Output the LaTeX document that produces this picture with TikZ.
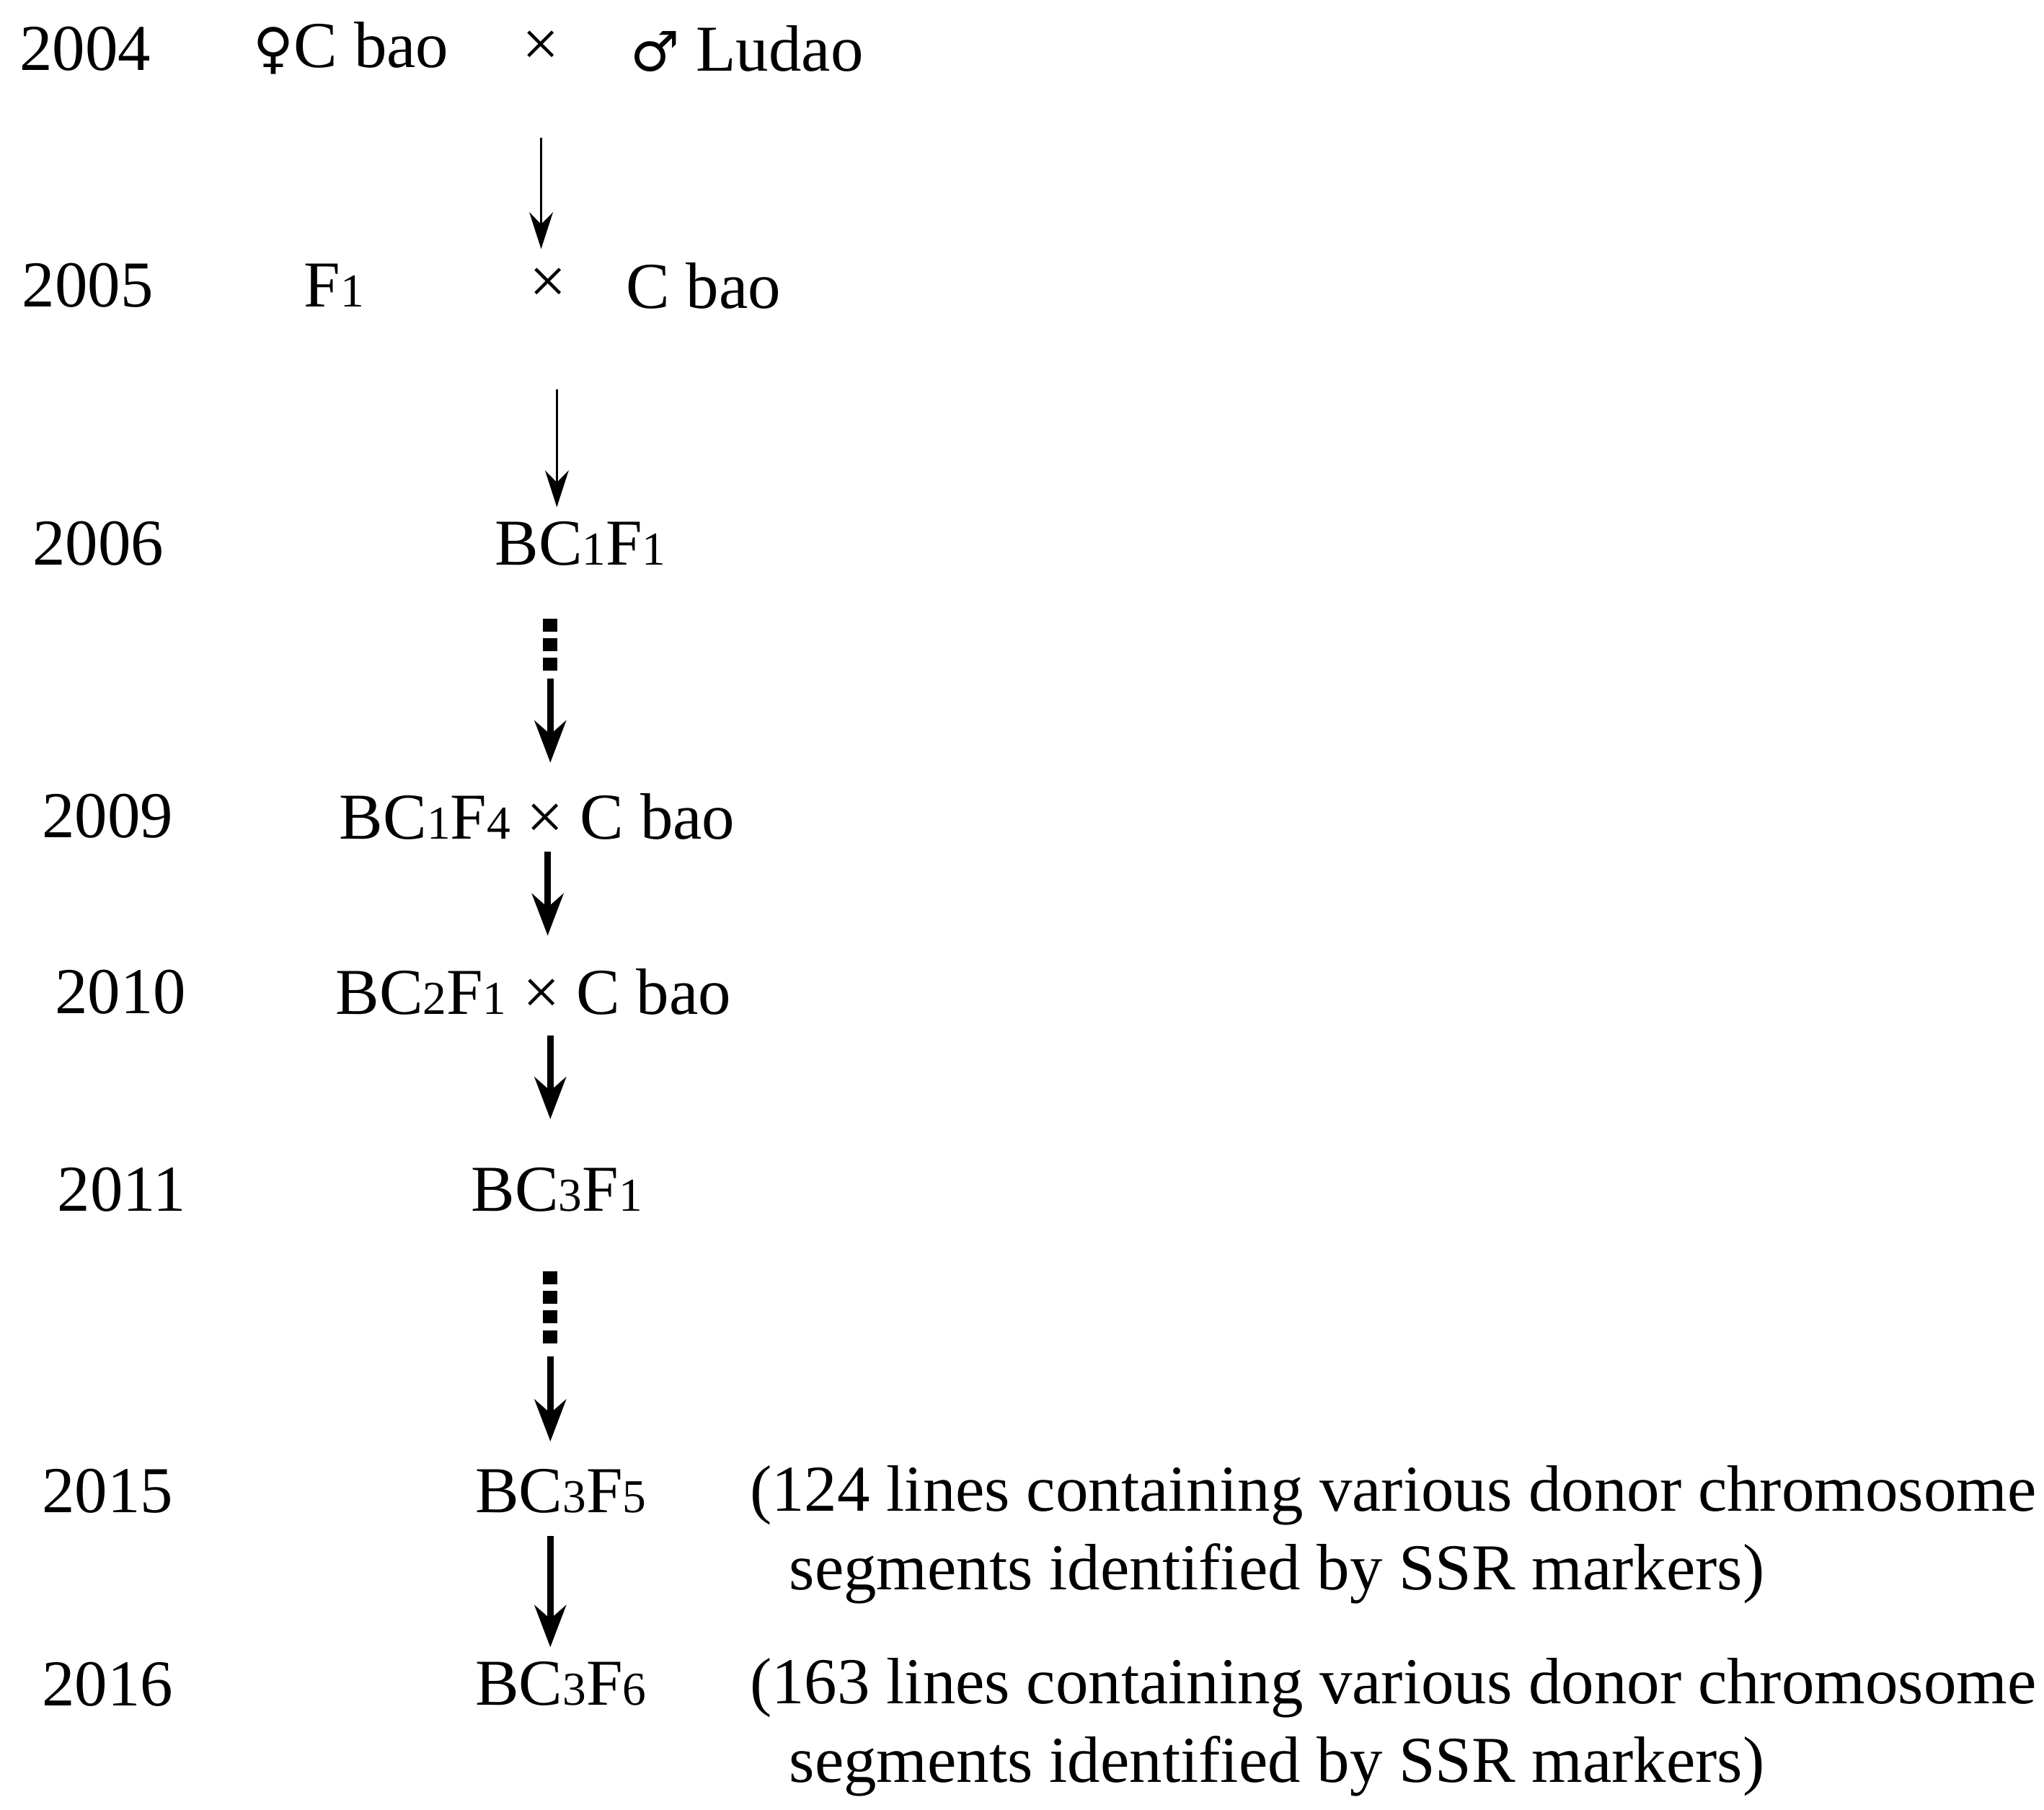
\documentclass[tikz,border=0pt]{standalone}
\usepackage{fontspec}
\setmainfont{Liberation Serif}
\newfontfamily\symf{DejaVu Sans}
\usetikzlibrary{arrows.meta}
\newcommand{\smnum}[1]{{\fontsize{18}{18}\selectfont #1}}
\begin{document}
\begin{tikzpicture}[x=0.5pt,y=-0.5pt,
  every node/.style={font=\fontsize{25}{30}\selectfont, inner sep=0pt},
  thinarr/.style={line width=1pt,-{Stealth[length=14pt,width=9pt]}},
  thickarr/.style={line width=2.6pt,-{Stealth[length=16pt,width=12pt]}},
  dots/.style={line width=5.5pt,dash pattern=on 5pt off 2.5pt}]
\useasboundingbox (0,0) rectangle (1560,1381);
% years
\node (y1) at (65,37) {2004};
\node (y2) at (67,218) {2005};
\node (y3) at (75,415) {2006};
\node (y4) at (82,623) {2009};
\node (y5) at (92,757) {2010};
\node (y6) at (93,908) {2011};
\node (y7) at (82,1138) {2015};
\node (y8) at (82,1285) {2016};
% row 1
\node (p1) at (268,37) {{\symf\fontsize{21}{25}\selectfont ♀}C bao};
\node (x1) at (413,37) {×};
\node (p2) at (570,37) {{\symf\fontsize{21}{25}\selectfont ♂} Ludao};
% row 2
\node (f1) at (255,218) {F\smnum{1}};
\node (x2) at (418,218) {×};
\node (cb2) at (537,218) {C bao};
% others
\node (b3) at (443,415) {BC\smnum{1}F\smnum{1}};
\node (b4) at (410,623) {BC\smnum{1}F\smnum{4} × C bao};
\node (b5) at (407,757) {BC\smnum{2}F\smnum{1} × C bao};
\node (b6) at (425,908) {BC\smnum{3}F\smnum{1}};
\node (b7) at (428,1138) {BC\smnum{3}F\smnum{5}};
\node (b8) at (428,1285) {BC\smnum{3}F\smnum{6}};
\node[anchor=north west,align=left] (t7) at (572,1118) {(124 lines containing various donor chromosome\\\hspace{15pt}segments identified by SSR markers)};
\node[anchor=north west,align=left] (t8) at (572,1265) {(163 lines containing various donor chromosome\\\hspace{15pt}segments identified by SSR markers)};
% arrows
\coordinate (a1s) at (413,105); \coordinate (a1e) at (413,190);
\draw[thinarr] (a1s) -- (a1e);
\coordinate (a2s) at (425,297); \coordinate (a2e) at (425,387);
\draw[thinarr] (a2s) -- (a2e);
\coordinate (d1s) at (420,472); \coordinate (d1e) at (420,512);
\draw[dots] (d1s) -- (d1e);
\coordinate (a3s) at (420,518); \coordinate (a3e) at (420,582);
\draw[thickarr] (a3s) -- (a3e);
\coordinate (a4s) at (418,650); \coordinate (a4e) at (418,714);
\draw[thickarr] (a4s) -- (a4e);
\coordinate (a5s) at (420,790); \coordinate (a5e) at (420,854);
\draw[thickarr] (a5s) -- (a5e);
\coordinate (d2s) at (420,970); \coordinate (d2e) at (420,1027);
\draw[dots] (d2s) -- (d2e);
\coordinate (a6s) at (420,1035); \coordinate (a6e) at (420,1100);
\draw[thickarr] (a6s) -- (a6e);
\coordinate (a7s) at (420,1172); \coordinate (a7e) at (420,1257);
\draw[thickarr] (a7s) -- (a7e);
\end{tikzpicture}
\end{document}
